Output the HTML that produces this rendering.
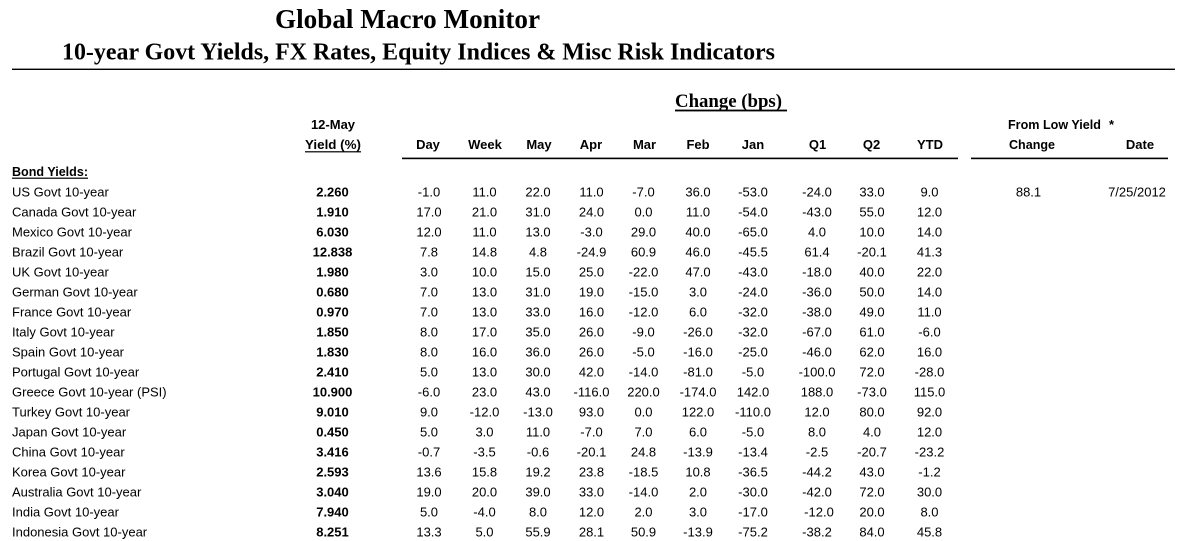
<!DOCTYPE html>
<html>
<head>
<meta charset="utf-8">
<style>
html,body{margin:0;padding:0;background:#fff;}
svg{display:block;}
.l{font-family:"Liberation Sans",Arial,sans-serif;font-size:13px;fill:#000;}
.c{text-anchor:middle;}
.b{font-weight:bold;}
.t{font-family:"Liberation Serif","Times New Roman",serif;font-weight:bold;fill:#000;}
</style>
</head>
<body>
<svg width="1177" height="541" viewBox="0 0 1177 541" xmlns="http://www.w3.org/2000/svg">
<rect x="0" y="0" width="1177" height="541" fill="#fff"/>
<!-- Titles -->
<text class="t" x="275" y="28" font-size="27" textLength="265" lengthAdjust="spacingAndGlyphs">Global Macro Monitor</text>
<text class="t" x="62" y="59.5" font-size="24" textLength="713" lengthAdjust="spacingAndGlyphs">10-year Govt Yields, FX Rates, Equity Indices &amp; Misc Risk Indicators</text>
<rect x="12" y="68.6" width="1163" height="1.4" fill="#000"/>

<!-- Change (bps) -->
<text class="t" x="675" y="107" font-size="18.5" textLength="107" lengthAdjust="spacingAndGlyphs">Change (bps)</text>
<rect x="675" y="109.6" width="112" height="1.8" fill="#000"/>

<!-- Headers -->
<text class="l b c" x="333" y="129">12-May</text>
<text class="l b c" x="333" y="149" textLength="56" lengthAdjust="spacingAndGlyphs">Yield (%)</text>
<rect x="305" y="151.2" width="56" height="1.2" fill="#000"/>

<text class="l b" x="1008" y="129" textLength="93" lengthAdjust="spacingAndGlyphs">From Low Yield</text>
<text class="l b c" x="1111.5" y="129">*</text>

<text class="l b c" x="428" y="149">Day</text>
<text class="l b c" x="485" y="149">Week</text>
<text class="l b c" x="539" y="149">May</text>
<text class="l b c" x="591" y="149">Apr</text>
<text class="l b c" x="644.5" y="149">Mar</text>
<text class="l b c" x="698" y="149">Feb</text>
<text class="l b c" x="753" y="149">Jan</text>
<text class="l b c" x="817.5" y="149">Q1</text>
<text class="l b c" x="871.5" y="149">Q2</text>
<text class="l b c" x="930" y="149">YTD</text>
<text class="l b c" x="1032" y="149" textLength="46" lengthAdjust="spacingAndGlyphs">Change</text>
<text class="l b c" x="1140" y="149">Date</text>

<rect x="402" y="157.6" width="556" height="1.6" fill="#000"/>
<rect x="971" y="157.6" width="197" height="1.6" fill="#000"/>

<text class="l b" x="12" y="176" textLength="76" lengthAdjust="spacingAndGlyphs">Bond Yields:</text>
<rect x="12" y="177.6" width="76" height="1.2" fill="#000"/>

<!-- Row 0 -->
<g transform="translate(0,196.5)">
<text class="l" x="12">US Govt 10-year</text>
<text class="l b c" x="332.5">2.260</text>
<text class="l c" x="429">-1.0</text><text class="l c" x="484.5">11.0</text><text class="l c" x="538">22.0</text><text class="l c" x="591.5">11.0</text><text class="l c" x="643.5">-7.0</text><text class="l c" x="698">36.0</text><text class="l c" x="753">-53.0</text><text class="l c" x="817">-24.0</text><text class="l c" x="872">33.0</text><text class="l c" x="929.5">9.0</text>
<text class="l c" x="1028.5">88.1</text><text class="l c" x="1137">7/25/2012</text>
</g>
<g transform="translate(0,216.5)">
<text class="l" x="12">Canada Govt 10-year</text>
<text class="l b c" x="332.5">1.910</text>
<text class="l c" x="429">17.0</text><text class="l c" x="484.5">21.0</text><text class="l c" x="538">31.0</text><text class="l c" x="591.5">24.0</text><text class="l c" x="643.5">0.0</text><text class="l c" x="698">11.0</text><text class="l c" x="753">-54.0</text><text class="l c" x="817">-43.0</text><text class="l c" x="872">55.0</text><text class="l c" x="929.5">12.0</text>
</g>
<g transform="translate(0,236.5)">
<text class="l" x="12">Mexico Govt 10-year</text>
<text class="l b c" x="332.5">6.030</text>
<text class="l c" x="429">12.0</text><text class="l c" x="484.5">11.0</text><text class="l c" x="538">13.0</text><text class="l c" x="591.5">-3.0</text><text class="l c" x="643.5">29.0</text><text class="l c" x="698">40.0</text><text class="l c" x="753">-65.0</text><text class="l c" x="817">4.0</text><text class="l c" x="872">10.0</text><text class="l c" x="929.5">14.0</text>
</g>
<g transform="translate(0,256.5)">
<text class="l" x="12">Brazil Govt 10-year</text>
<text class="l b c" x="332.5">12.838</text>
<text class="l c" x="429">7.8</text><text class="l c" x="484.5">14.8</text><text class="l c" x="538">4.8</text><text class="l c" x="591.5">-24.9</text><text class="l c" x="643.5">60.9</text><text class="l c" x="698">46.0</text><text class="l c" x="753">-45.5</text><text class="l c" x="817">61.4</text><text class="l c" x="872">-20.1</text><text class="l c" x="929.5">41.3</text>
</g>
<g transform="translate(0,276.5)">
<text class="l" x="12">UK Govt 10-year</text>
<text class="l b c" x="332.5">1.980</text>
<text class="l c" x="429">3.0</text><text class="l c" x="484.5">10.0</text><text class="l c" x="538">15.0</text><text class="l c" x="591.5">25.0</text><text class="l c" x="643.5">-22.0</text><text class="l c" x="698">47.0</text><text class="l c" x="753">-43.0</text><text class="l c" x="817">-18.0</text><text class="l c" x="872">40.0</text><text class="l c" x="929.5">22.0</text>
</g>
<g transform="translate(0,296.5)">
<text class="l" x="12">German Govt 10-year</text>
<text class="l b c" x="332.5">0.680</text>
<text class="l c" x="429">7.0</text><text class="l c" x="484.5">13.0</text><text class="l c" x="538">31.0</text><text class="l c" x="591.5">19.0</text><text class="l c" x="643.5">-15.0</text><text class="l c" x="698">3.0</text><text class="l c" x="753">-24.0</text><text class="l c" x="817">-36.0</text><text class="l c" x="872">50.0</text><text class="l c" x="929.5">14.0</text>
</g>
<g transform="translate(0,316.5)">
<text class="l" x="12">France Govt 10-year</text>
<text class="l b c" x="332.5">0.970</text>
<text class="l c" x="429">7.0</text><text class="l c" x="484.5">13.0</text><text class="l c" x="538">33.0</text><text class="l c" x="591.5">16.0</text><text class="l c" x="643.5">-12.0</text><text class="l c" x="698">6.0</text><text class="l c" x="753">-32.0</text><text class="l c" x="817">-38.0</text><text class="l c" x="872">49.0</text><text class="l c" x="929.5">11.0</text>
</g>
<g transform="translate(0,336.5)">
<text class="l" x="12">Italy Govt 10-year</text>
<text class="l b c" x="332.5">1.850</text>
<text class="l c" x="429">8.0</text><text class="l c" x="484.5">17.0</text><text class="l c" x="538">35.0</text><text class="l c" x="591.5">26.0</text><text class="l c" x="643.5">-9.0</text><text class="l c" x="698">-26.0</text><text class="l c" x="753">-32.0</text><text class="l c" x="817">-67.0</text><text class="l c" x="872">61.0</text><text class="l c" x="929.5">-6.0</text>
</g>
<g transform="translate(0,356.5)">
<text class="l" x="12">Spain Govt 10-year</text>
<text class="l b c" x="332.5">1.830</text>
<text class="l c" x="429">8.0</text><text class="l c" x="484.5">16.0</text><text class="l c" x="538">36.0</text><text class="l c" x="591.5">26.0</text><text class="l c" x="643.5">-5.0</text><text class="l c" x="698">-16.0</text><text class="l c" x="753">-25.0</text><text class="l c" x="817">-46.0</text><text class="l c" x="872">62.0</text><text class="l c" x="929.5">16.0</text>
</g>
<g transform="translate(0,376.5)">
<text class="l" x="12">Portugal Govt 10-year</text>
<text class="l b c" x="332.5">2.410</text>
<text class="l c" x="429">5.0</text><text class="l c" x="484.5">13.0</text><text class="l c" x="538">30.0</text><text class="l c" x="591.5">42.0</text><text class="l c" x="643.5">-14.0</text><text class="l c" x="698">-81.0</text><text class="l c" x="753">-5.0</text><text class="l c" x="817">-100.0</text><text class="l c" x="872">72.0</text><text class="l c" x="929.5">-28.0</text>
</g>
<g transform="translate(0,396.5)">
<text class="l" x="12">Greece Govt 10-year (PSI)</text>
<text class="l b c" x="332.5">10.900</text>
<text class="l c" x="429">-6.0</text><text class="l c" x="484.5">23.0</text><text class="l c" x="538">43.0</text><text class="l c" x="591.5">-116.0</text><text class="l c" x="643.5">220.0</text><text class="l c" x="698">-174.0</text><text class="l c" x="753">142.0</text><text class="l c" x="817">188.0</text><text class="l c" x="872">-73.0</text><text class="l c" x="929.5">115.0</text>
</g>
<g transform="translate(0,416.5)">
<text class="l" x="12">Turkey Govt 10-year</text>
<text class="l b c" x="332.5">9.010</text>
<text class="l c" x="429">9.0</text><text class="l c" x="484.5">-12.0</text><text class="l c" x="538">-13.0</text><text class="l c" x="591.5">93.0</text><text class="l c" x="643.5">0.0</text><text class="l c" x="698">122.0</text><text class="l c" x="753">-110.0</text><text class="l c" x="817">12.0</text><text class="l c" x="872">80.0</text><text class="l c" x="929.5">92.0</text>
</g>
<g transform="translate(0,436.5)">
<text class="l" x="12">Japan Govt 10-year</text>
<text class="l b c" x="332.5">0.450</text>
<text class="l c" x="429">5.0</text><text class="l c" x="484.5">3.0</text><text class="l c" x="538">11.0</text><text class="l c" x="591.5">-7.0</text><text class="l c" x="643.5">7.0</text><text class="l c" x="698">6.0</text><text class="l c" x="753">-5.0</text><text class="l c" x="817">8.0</text><text class="l c" x="872">4.0</text><text class="l c" x="929.5">12.0</text>
</g>
<g transform="translate(0,456.5)">
<text class="l" x="12">China Govt 10-year</text>
<text class="l b c" x="332.5">3.416</text>
<text class="l c" x="429">-0.7</text><text class="l c" x="484.5">-3.5</text><text class="l c" x="538">-0.6</text><text class="l c" x="591.5">-20.1</text><text class="l c" x="643.5">24.8</text><text class="l c" x="698">-13.9</text><text class="l c" x="753">-13.4</text><text class="l c" x="817">-2.5</text><text class="l c" x="872">-20.7</text><text class="l c" x="929.5">-23.2</text>
</g>
<g transform="translate(0,476.5)">
<text class="l" x="12">Korea Govt 10-year</text>
<text class="l b c" x="332.5">2.593</text>
<text class="l c" x="429">13.6</text><text class="l c" x="484.5">15.8</text><text class="l c" x="538">19.2</text><text class="l c" x="591.5">23.8</text><text class="l c" x="643.5">-18.5</text><text class="l c" x="698">10.8</text><text class="l c" x="753">-36.5</text><text class="l c" x="817">-44.2</text><text class="l c" x="872">43.0</text><text class="l c" x="929.5">-1.2</text>
</g>
<g transform="translate(0,496.5)">
<text class="l" x="12">Australia Govt 10-year</text>
<text class="l b c" x="332.5">3.040</text>
<text class="l c" x="429">19.0</text><text class="l c" x="484.5">20.0</text><text class="l c" x="538">39.0</text><text class="l c" x="591.5">33.0</text><text class="l c" x="643.5">-14.0</text><text class="l c" x="698">2.0</text><text class="l c" x="753">-30.0</text><text class="l c" x="817">-42.0</text><text class="l c" x="872">72.0</text><text class="l c" x="929.5">30.0</text>
</g>
<g transform="translate(0,516.5)">
<text class="l" x="12">India Govt 10-year</text>
<text class="l b c" x="332.5">7.940</text>
<text class="l c" x="429">5.0</text><text class="l c" x="484.5">-4.0</text><text class="l c" x="538">8.0</text><text class="l c" x="591.5">12.0</text><text class="l c" x="643.5">2.0</text><text class="l c" x="698">3.0</text><text class="l c" x="753">-17.0</text><text class="l c" x="819">-12.0</text><text class="l c" x="872">20.0</text><text class="l c" x="929.5">8.0</text>
</g>
<g transform="translate(0,536.5)">
<text class="l" x="12">Indonesia Govt 10-year</text>
<text class="l b c" x="332.5">8.251</text>
<text class="l c" x="429">13.3</text><text class="l c" x="484.5">5.0</text><text class="l c" x="538">55.9</text><text class="l c" x="591.5">28.1</text><text class="l c" x="643.5">50.9</text><text class="l c" x="698">-13.9</text><text class="l c" x="753">-75.2</text><text class="l c" x="817">-38.2</text><text class="l c" x="872">84.0</text><text class="l c" x="929.5">45.8</text>
</g>
</svg>
</body>
</html>
